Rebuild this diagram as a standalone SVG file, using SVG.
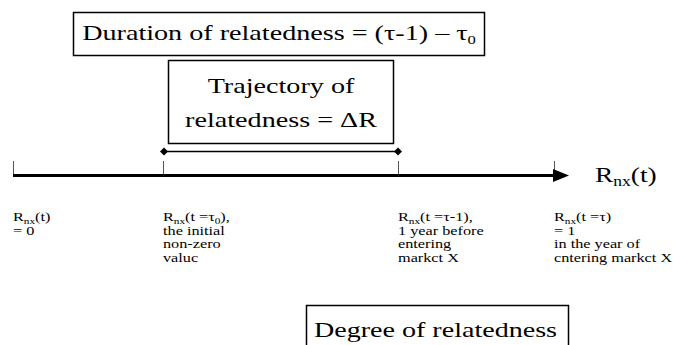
<svg xmlns="http://www.w3.org/2000/svg" width="673" height="345" viewBox="0 0 673 345">
<style>
.box{fill:#fff;stroke:#000;stroke-width:1.5}
.big{font-family:"Liberation Serif","DejaVu Serif",serif;font-size:22px;fill:#000}
.sm{font-family:"Liberation Serif","DejaVu Serif",serif;font-size:13px;fill:#000}
.sub{font-size:9px}
.tick{stroke:#555;stroke-width:1}
</style>
<defs>
<marker id="dia" viewBox="-5 -5 10 10" markerWidth="10" markerHeight="10" markerUnits="userSpaceOnUse" refX="0" refY="0" orient="auto">
<path d="M0,-4 L4,0 L0,4 L-4,0 Z" fill="#000"/>
</marker>
</defs>
<rect width="673" height="345" fill="#fff"/>
<g id="duration">
<rect class="box" x="73.5" y="12.5" width="411" height="43"/>
<text class="big" transform="translate(279,40) scale(1.28,1)" text-anchor="middle">Duration of relatedness = (τ-1) – τ<tspan font-size="13" dy="4">0</tspan></text>
</g>
<g id="trajectory">
<rect class="box" x="168.5" y="60.5" width="225" height="83"/>
<text class="big" transform="translate(281,93) scale(1.28,1)" text-anchor="middle">Trajectory of</text>
<text class="big" transform="translate(281,127) scale(1.28,1)" text-anchor="middle">relatedness = ΔR</text>
</g>
<g id="degree">
<rect class="box" x="306.5" y="305.5" width="262" height="60"/>
<text class="big" x="314" y="337" textLength="243" lengthAdjust="spacingAndGlyphs">Degree of relatedness</text>
</g>
<g id="connectors">
<line x1="164" y1="151.5" x2="398" y2="151.5" stroke="#000" stroke-width="1.5" marker-start="url(#dia)" marker-end="url(#dia)"/>
<line class="tick" x1="13.5" y1="161" x2="13.5" y2="175"/>
<line class="tick" x1="163.5" y1="161" x2="163.5" y2="175"/>
<line class="tick" x1="398.5" y1="161" x2="398.5" y2="175"/>
<line class="tick" x1="554.5" y1="161" x2="554.5" y2="175"/>
<line x1="13" y1="175.5" x2="556" y2="175.5" stroke="#000" stroke-width="3"/>
<polygon points="553,169 569,175.5 553,182" fill="#000"/>
</g>
<g id="axis-label">
<text class="big" font-size="21" transform="translate(595,182) scale(1.25,1)">R<tspan font-size="14" dy="4">nx</tspan><tspan dy="-4">(t)</tspan></text>
</g>
<g id="label-0">
<text class="sm" transform="translate(13,221) scale(1.25,1)">R<tspan class="sub" dy="2.5">nx</tspan><tspan dy="-2.5">(t)</tspan></text>
<text class="sm" transform="translate(13,234.5) scale(1.25,1)">= 0</text>
</g>
<g id="label-tau0">
<text class="sm" transform="translate(163,221) scale(1.25,1)">R<tspan class="sub" dy="2.5">nx</tspan><tspan dy="-2.5">(t =τ</tspan><tspan class="sub" dy="2.5">0</tspan><tspan dy="-2.5">),</tspan></text>
<text class="sm" transform="translate(163,234.5) scale(1.25,1)">the initial</text>
<text class="sm" transform="translate(163,248) scale(1.25,1)">non-zero</text>
<text class="sm" transform="translate(163,261.5) scale(1.25,1)">valuc</text>
</g>
<g id="label-tau-1">
<text class="sm" transform="translate(398,221) scale(1.25,1)">R<tspan class="sub" dy="2.5">nx</tspan><tspan dy="-2.5">(t =τ-1),</tspan></text>
<text class="sm" transform="translate(398,234.5) scale(1.25,1)">1 year before</text>
<text class="sm" transform="translate(398,248) scale(1.25,1)">entering</text>
<text class="sm" transform="translate(398,261.5) scale(1.25,1)">markct X</text>
</g>
<g id="label-tau">
<text class="sm" transform="translate(554,221) scale(1.25,1)">R<tspan class="sub" dy="2.5">nx</tspan><tspan dy="-2.5">(t =τ)</tspan></text>
<text class="sm" transform="translate(554,234.5) scale(1.25,1)">= 1</text>
<text class="sm" transform="translate(554,248) scale(1.25,1)">in the year of</text>
<text class="sm" transform="translate(554,261.5) scale(1.25,1)">cntering markct X</text>
</g>
</svg>
